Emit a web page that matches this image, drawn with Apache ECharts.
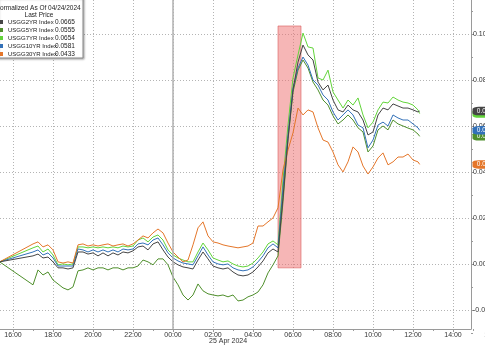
<!DOCTYPE html>
<html><head><meta charset="utf-8">
<script src="https://cdn.jsdelivr.net/npm/echarts@6/dist/echarts.min.js"></script>
<style>html,body{margin:0;padding:0;background:#fff;overflow:hidden}#c{width:485px;height:345px}</style>
</head><body><div id="c"></div>
<script>
// Time grid (Apr 24 -> Apr 25, 2024)
const times = ['15:20','17:00','17:15','17:30','17:45','18:00','18:15','18:30','18:45','19:00','19:15','19:30','19:45','20:00','20:15','20:30','20:45','21:00','21:15','21:30','21:45','22:00','22:15','22:30','22:45','23:00','23:15','23:30','23:45','00:00','00:15','00:30','00:45','01:00','01:15','01:30','01:45','02:00','02:15','02:30','02:45','03:00','03:15','03:30','03:45','04:00','04:15','04:30','04:45','05:00','05:15','05:30','05:45','06:00','06:15','06:30','06:45','07:00','07:15','07:30','07:45','08:00','08:15','08:30','08:45','09:00','09:15','09:30','09:45','10:00','10:15','10:30','10:45','11:00','11:15','11:30','11:45','12:00','12:15','12:20'];

const usgg2yr = [0.0009,
 .0035,.0043,.0026,.0030,.0009,-.0017,-.0017,-.0022,-.0017,.0052,
 .0052,.0043,.0048,.0035,.0048,.0035,.0048,.0039,.0052,.0048,
 .0057,.0074,.0078,.0061,.0087,.0096,.0061,.0030,.0009,-.0004,
 -.0013,-.0017,-.0022,.0017,.0052,.0022,-.0009,-.0017,-.0022,-.0017,
 -.0035,-.0048,-.0052,-.0048,-.0035,-.0013,.0013,.0048,.0065,.0052,
 .0290,.0545,.0757,.0878,.0952,.0909,.0887,.0791,.0757,.0778,
 .0713,.0670,.0661,.0691,.0670,.0661,.0626,.0561,.0574,.0648,
 .0678,.0670,.0696,.0687,.0678,.0678,.0670,.0661,
 .0665];

const usgg5yr = [0.0009,
 -.0091,-.0026,-.0048,-.0035,-.0070,-.0087,-.0104,-.0113,-.0100,-.0030,
 -.0026,-.0017,-.0026,-.0017,-.0017,-.0026,-.0017,-.0017,-.0026,-.0017,
 -.0017,-.0009,.0017,.0009,-.0004,.0022,.0022,-.0004,-.0057,-.0091,
 -.0135,-.0157,-.0135,-.0087,-.0117,-.0130,-.0135,-.0139,-.0135,-.0143,
 -.0135,-.0161,-.0157,-.0143,-.0135,-.0122,-.0091,-.0039,-.0004,.0035,
 .0270,.0540,.0748,.0843,.0887,.0852,.0791,.0757,.0713,.0691,
 .0644,.0609,.0626,.0648,.0626,.0592,.0574,.0487,.0513,.0583,
 .0600,.0583,.0626,.0609,.0600,.0591,.0583,.0565,
 .0555];

const usgg7yr = [0.0009,
 .0070,.0078,.0052,.0065,.0039,-.0004,0,-.0004,0,.0074,
 .0074,.0070,.0074,.0070,.0074,.0070,.0074,.0070,.0078,.0074,
 .0078,.0104,.0113,.0096,.0117,.0126,.0104,.0061,.0039,.0026,
 .0017,.0009,.0009,.0052,.0091,.0061,.0026,.0017,.0009,.0013,
 0,-.0009,-.0013,-.0009,.0004,.0026,.0052,.0087,.0100,.0083,
 .0365,.0604,.0809,.0909,.1004,.0944,.0939,.0809,.0800,.0843,
 .0748,.0713,.0678,.0713,.0691,.0722,.0648,.0592,.0617,.0670,
 .0704,.0700,.0726,.0713,.0704,.0700,.0691,.0670,
 .0654];

const usgg10yr = [0.0009,
 .0052,.0061,.0039,.0048,.0026,-.0009,-.0009,-.0009,-.0009,.0065,
 .0061,.0052,.0061,.0052,.0061,.0052,.0061,.0052,.0065,.0061,
 .0065,.0087,.0091,.0083,.0104,.0113,.0083,.0048,.0026,.0013,
 .0004,0,-.0004,.0035,.0074,.0039,.0009,0,-.0004,0,
 -.0017,-.0026,-.0030,-.0026,-.0013,.0009,.0035,.0070,.0087,.0070,
 .0330,.0561,.0765,.0852,.0900,.0865,.0800,.0778,.0735,.0713,
 .0661,.0626,.0648,.0670,.0648,.0604,.0592,.0505,.0539,.0604,
 .0617,.0600,.0648,.0635,.0626,.0626,.0609,.0592,
 .0581];

const usgg30yr = [0.0009,
 .0087,.0096,.0074,.0083,.0061,.0009,.0004,.0009,.0004,.0083,
 .0087,.0078,.0083,.0078,.0083,.0087,.0078,.0083,.0087,.0078,
 .0087,.0104,.0122,.0113,.0135,.0152,.0135,.0091,.0052,.0030,
 .0009,.0017,.0083,.0157,.0183,.0122,.0096,.0091,.0083,.0078,
 .0074,.0070,.0074,.0078,.0091,.0165,.0165,.0183,.0200,.0244,
 .0409,.0496,.0570,.0678,.0648,.0670,.0661,.0592,.0539,.0530,
 .0487,.0431,.0400,.0444,.0509,.0487,.0426,.0391,.0422,.0461,
 .0483,.0431,.0444,.0465,.0465,.0478,.0452,.0444,
 .0433];

const seriesNames = ['USGG2YR Index','USGG5YR Index','USGG7YR Index','USGG10YR Index','USGG30YR Index'];
const lastPrices = ['0.0665','0.0555','0.0654','0.0581','0.0433'];
const seriesColors = ['#454545','#4f8f2c','#62d43a','#3371b8','#e4762a'];
const tagOrder = [9, 5, 8, 7, 6];
const yTickLabels = ['-0.04','-0.02','0.00','0.02','0.04','0.06','0.08','0.10','0.12'];
const highlightWindow = ['05:15','06:24'];
const highlightRange = [-0.0017, 0.1035];

// convert HH:MM strings into timestamps, rolling over to Apr 25
function toTs(list){
  let day = 24, prev = -1;
  return list.map(t => {
    const [h, m] = t.split(':').map(Number);
    if (h < prev) day++;
    prev = h;
    return Date.UTC(2024, 3, day, h, m);
  });
}
const ts = toTs(times);
const H = 3600000;
const xMin = Date.UTC(2024,3,24,15,21);
const xMax = Date.UTC(2024,3,25,14,54);
// tick axis: aligned to even hours (extends past both canvas edges)
const tickMin = Date.UTC(2024,3,24,14,0);
const tickMax = Date.UTC(2024,3,25,16,0);
const dayBreakTs = Date.UTC(2024,3,25,0,0);
const hw = highlightWindow.map(t => { const [h,m]=t.split(':').map(Number); return Date.UTC(2024,3,25,h,m); });
const pad = n => (n < 10 ? '0' : '') + n;

const allData = [usgg2yr, usgg5yr, usgg7yr, usgg10yr, usgg30yr];
const series = allData.map((vals, i) => {
  const s = {
    name: seriesNames[i], type: 'line', xAxisIndex: 0, yAxisIndex: 0,
    data: vals.map((v, j) => [ts[j], v]),
    showSymbol: false, symbol: 'none',
    lineStyle: { width: 1, color: seriesColors[i] },
    itemStyle: { color: seriesColors[i] },
    z: i === 0 ? 3 : 2,
    markPoint: {
      z: tagOrder[i],
      symbol: 'roundRect', symbolSize: [25, 8.5], symbolOffset: [14, 0],
      silent: true, animation: false,
      data: [{ coord: [xMax, vals[vals.length - 1]] }],
      itemStyle: { color: seriesColors[i] },
      label: { show: true, color: '#fff', fontSize: 6.5, fontFamily: 'Liberation Sans',
        formatter: () => Number(lastPrices[i]).toFixed(3) }
    }
  };
  if (i === 4) {
    s.markArea = {
      silent: true,
      itemStyle: { color: 'rgba(238,110,110,0.5)', borderColor: 'rgba(215,80,80,0.55)', borderWidth: 1 },
      data: [[{ xAxis: hw[0], yAxis: highlightRange[0] }, { xAxis: hw[1], yAxis: highlightRange[1] }]]
    };
    s.markLine = {
      silent: true, symbol: 'none', label: { show: false },
      lineStyle: { color: '#b0b0b0', width: 1.5, type: 'solid' },
      data: [{ xAxis: dayBreakTs }]
    };
  }
  return s;
});

const dotted = { type: [1, 2], color: '#b4b4b4', width: 1 };
const chart = echarts.init(document.getElementById('c'), null, { renderer: 'canvas' });
chart.setOption({
  useUTC: true,
  animation: false,
  backgroundColor: '#fff',
  textStyle: { fontFamily: 'Liberation Sans' },
  grid: [
    { left: 0, right: 14, top: 0, bottom: 16, outerBoundsMode: 'none', containLabel: false },
    { left: -27, right: -8, top: 0, bottom: 16, outerBoundsMode: 'none', containLabel: false },
    { left: 0, right: 14, top: -12, bottom: -11, outerBoundsMode: 'none', containLabel: false }
  ],
  xAxis: [
    { type: 'time', gridIndex: 0, min: xMin, max: xMax,
      axisLine: { show: true, onZero: false, lineStyle: { color: '#9a9a9a' } },
      axisTick: { show: false }, axisLabel: { show: false }, splitLine: { show: false } },
    { type: 'value', gridIndex: 1, min: tickMin, max: tickMax, interval: 2 * H,
      axisLine: { show: false, onZero: false },
      axisTick: { show: true, length: 3, lineStyle: { color: '#9a9a9a' } },
      minorTick: { show: true, splitNumber: 2, length: 2, lineStyle: { color: '#9a9a9a' } },
      axisLabel: { fontSize: 7, color: '#333', margin: 3, hideOverlap: false, showMinLabel: true, showMaxLabel: true,
        formatter: v => { const d = new Date(v); return pad(d.getUTCHours()) + ':' + pad(d.getUTCMinutes()); } },
      splitLine: { show: true, lineStyle: dotted } },
    { type: 'value', gridIndex: 2, min: 0, max: 1, show: false, axisLine: { onZero: false } }
  ],
  yAxis: [
    { type: 'value', gridIndex: 0, position: 'right', min: -0.0283, max: 0.1148,
      axisLine: { show: true, onZero: false, lineStyle: { color: '#9a9a9a' } },
      axisTick: { show: false }, axisLabel: { show: false }, splitLine: { show: false } },
    { type: 'value', gridIndex: 1, min: 0, max: 1, show: false, axisLine: { onZero: false } },
    { type: 'value', gridIndex: 2, position: 'right', min: -0.04, max: 0.12, interval: 0.02,
      axisLine: { show: false, onZero: false },
      axisTick: { show: true, length: 3, lineStyle: { color: '#9a9a9a' } },
      minorTick: { show: true, splitNumber: 2, length: 2, lineStyle: { color: '#9a9a9a' } },
      axisLabel: { fontSize: 7, color: '#333', margin: 2,
        formatter: v => yTickLabels[Math.round((v + 0.04) / 0.02)] },
      splitLine: { show: true, lineStyle: dotted } }
  ],
  legend: {
    left: -1, top: 18.5, orient: 'vertical', padding: 0,
    itemWidth: 4, itemHeight: 4, itemGap: 1, icon: 'rect',
    data: seriesNames,
    formatter: name => '{a|' + name + '}{b|' + lastPrices[seriesNames.indexOf(name)] + '}',
    textStyle: { fontSize: 6, lineHeight: 6.5, color: '#222', fontFamily: 'Liberation Sans',
      rich: { a: { width: 47, fontSize: 6, lineHeight: 6.5 }, b: { fontSize: 6.5, lineHeight: 6.5 } } }
  },
  graphic: [
    { type: 'rect', z: 3, shape: { x: -2, y: -2, width: 85, height: 60 },
      style: { fill: '#fff', stroke: '#8a8a8a', lineWidth: 1, shadowBlur: 2, shadowColor: 'rgba(0,0,0,0.3)', shadowOffsetX: 1, shadowOffsetY: 1 } },
    { type: 'text', z: 5, x: 38, y: 8.5,
      style: { text: 'Normalized As Of 04/24/2024', align: 'center', verticalAlign: 'middle', font: '6.5px "Liberation Sans"', fill: '#222' } },
    { type: 'text', z: 5, x: 39, y: 15.5,
      style: { text: 'Last Price', align: 'center', verticalAlign: 'middle', font: '6.5px "Liberation Sans"', fill: '#222' } },
    { type: 'text', z: 5, x: 209, y: 341,
      style: { text: '25 Apr 2024', align: 'left', verticalAlign: 'middle', font: '7px "Liberation Sans"', fill: '#333' } }
  ],
  series: series
});
</script>
</body></html>
